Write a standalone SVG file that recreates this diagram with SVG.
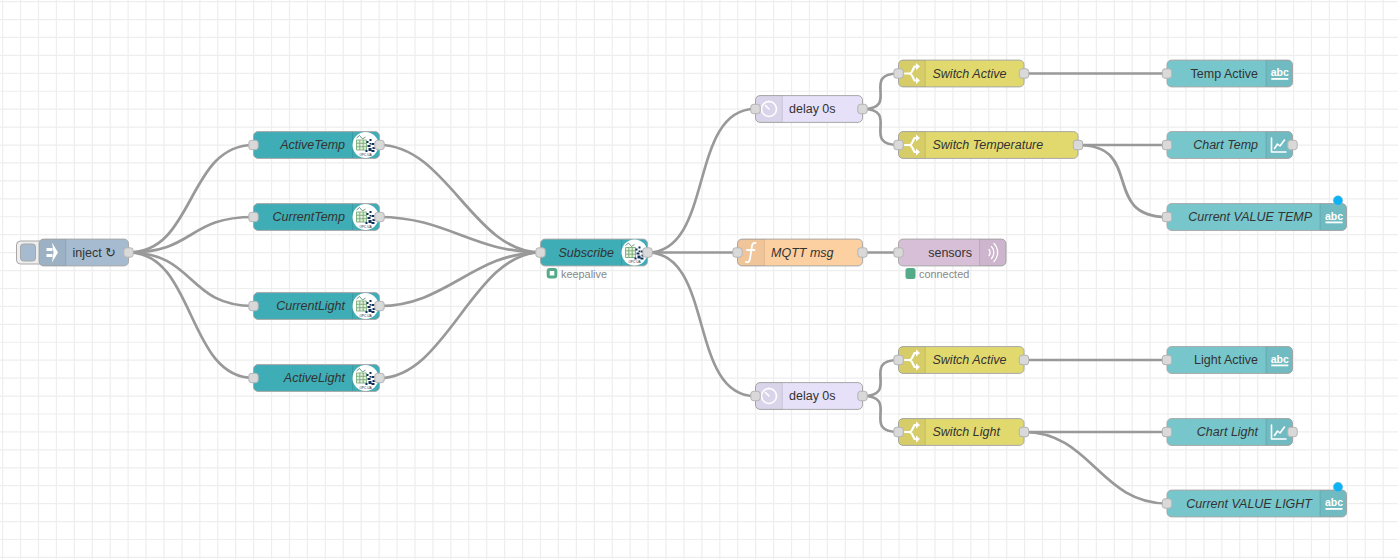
<svg xmlns="http://www.w3.org/2000/svg" width="1398" height="559" viewBox="0 0 1398 559">
<style>
text{font-family:"Liberation Sans",Arial,sans-serif;font-size:12.5px;fill:#333;dominant-baseline:central}
.i{font-style:italic}
.e{text-anchor:end}
.st{font-size:10.9px;fill:#888}
.b{stroke:#a8a8a8;stroke-width:1}
.ia{fill:#000;fill-opacity:.05}
.sep{stroke:#000;stroke-opacity:.1;stroke-width:1}
.p{fill:#d9d9d9;stroke:#b4b4b4;stroke-width:1}
.w{fill:none;stroke:#999;stroke-width:2.7}
.ic{fill:none;stroke:#fff;stroke-width:1.6;stroke-linecap:round;stroke-linejoin:round}
.if{fill:#fff}
.abc{font-size:10.5px;font-weight:bold;fill:#fff;text-anchor:middle}
.d{fill:#0cb2f3;stroke:#7fb6cc;stroke-width:.5}
.g{fill:none;stroke:#eee}
</style>
<defs>
<symbol id="port" overflow="visible"><rect class="p" x="-4.700" y="-4.700" width="9.400" height="9.400" rx="2.700"/></symbol>
<symbol id="opc" overflow="visible">
<circle r="13" fill="#fff"/>
<path d="M-9 -7L-6 -9.500L-3 -6L0 -8" fill="none" stroke="#2e6f4a" stroke-width=".7"/>
<path d="M-9 -5H1V5H-9ZM-9 -1.700H1M-9 1.700H1M-5.700 -5V5M-2.300 -5V5" fill="#e3f0dc" stroke="#6ea36e" stroke-width=".8"/>
<path d="M1 -4h2v2h-2zM4 -6h2v2h-2zM6 -2h3v2h-3zM2 0h3v2h-3zM7 2h3v2h-3zM3 3h3v3h-3zM0 5h2v2h-2zM6 5h3v2h-3zM4 -2h1.500v1.500h-1.500z" fill="#10305e"/>
<text y="9.500" text-anchor="middle" style="font-size:3.200px;fill:#223">OPC UA</text>
</symbol>
<symbol id="sw" overflow="visible">
<path class="ic" style="stroke-width:2.200" d="M-7.500 0H-3.500C-1 0 -1 -1 0 -3L2 -7H4.500M-3.500 0C-1 0 -1 1 0 3L2 7H4.500"/>
<path class="if" d="M3.500 -10.500L7.500 -7L3.500 -3.500ZM3.500 3.500L7.500 7L3.500 10.500Z"/>
</symbol>
<symbol id="clk" overflow="visible">
<circle class="ic" r="7.500"/><path class="ic" d="M0 0L-3.500 -3.500M-1 -7.500H1"/>
</symbol>
<symbol id="abcI" overflow="visible">
<text class="abc" y="-1.500">abc</text>
<rect class="if" x="-8.500" y="4.500" width="17" height="1.800"/>
</symbol>
<symbol id="chart" overflow="visible">
<path class="ic" d="M-7 -7V7H7.500"/><path class="ic" d="M-4 3.500L-1 -1L1.500 1L6 -5"/>
</symbol>
</defs>
<rect width="1398" height="559" fill="#fff"/>
<g id="grid">
<line class="g" x1="2" y1="279.500" x2="1398" y2="279.500" stroke-width="559" stroke-dasharray="1.200 16.730"/>
<line class="g" x1="699" y1="1" x2="699" y2="559" stroke-width="1398" stroke-dasharray="1.200 16.730"/>
</g>
<g id="connectors">
<path class="w" d="M128.500 252.500C195.500 252.500 186.500 145 253.500 145"/>
<path class="w" d="M128.500 252.500C195.500 252.500 186.500 217 253.500 217"/>
<path class="w" d="M128.500 252.500C195.500 252.500 186.500 306 253.500 306"/>
<path class="w" d="M128.500 252.500C195.500 252.500 186.500 378 253.500 378"/>
<path class="w" d="M379.500 145C446.500 145 473.500 252.500 540.500 252.500"/>
<path class="w" d="M379.500 217C446.500 217 473.500 252.500 540.500 252.500"/>
<path class="w" d="M379.500 306C446.500 306 473.500 252.500 540.500 252.500"/>
<path class="w" d="M379.500 378C446.500 378 473.500 252.500 540.500 252.500"/>
<path class="w" d="M647.500 252.500C714.500 252.500 688 109 755 109"/>
<path class="w" d="M647.500 252.500H737.500"/>
<path class="w" d="M647.500 252.500C714.500 252.500 688 396 755 396"/>
<path class="w" d="M862.500 109C901 109 860 73.500 898.500 73.500"/>
<path class="w" d="M862.500 109C901 109 860 145 898.500 145"/>
<path class="w" d="M862.500 252.500H898.500"/>
<path class="w" d="M862.500 396C901 396 860 360 898.500 360"/>
<path class="w" d="M862.500 396C901 396 860 432 898.500 432"/>
<path class="w" d="M1024 73.500H1167"/>
<path class="w" d="M1078 145H1167"/>
<path class="w" d="M1078 145C1145 145 1100 217 1167 217"/>
<path class="w" d="M1024 360H1167"/>
<path class="w" d="M1024 432H1167"/>
<path class="w" d="M1024 432C1091 432 1100 503.500 1167 503.500"/>
</g>
<g id="n-inject" transform="translate(39,252.500)">
<rect x="-22.500" y="-11.500" width="30" height="23" rx="4" fill="#eee" class="b"/>
<rect x="-18.500" y="-8.500" width="15" height="17" rx="3" fill="#a6bbcf" class="b"/>
<rect class="b" width="89.500" height="26.800" y="-13.400" rx="4.500" fill="#a6bbcf"/>
<path class="ia" d="M4.500 -13.400H26.800V13.400H4.500A4.500 4.500 0 0 1 0 9V-9A4.500 4.500 0 0 1 4.500 -13.400Z"/>
<path class="sep" d="M26.800 -13V13"/>
<path class="if" d="M7.500 -4.500H13.500V-1.500H7.500ZM7.500 1.500H13.500V4.500H7.500ZM13 -10L19 0L13 10L14.500 0Z"/>
<text x="33.500">inject ↻</text>
<use href="#port" x="89.500"/>
</g>
<g id="n-activetemp" transform="translate(253.500,145)">
<rect class="b" width="126" height="26.800" y="-13.400" rx="4.500" fill="#3fadb5"/>
<path class="sep" d="M99 -13V13"/><text class="i e" x="91.500">ActiveTemp</text>
<use href="#opc" x="112"/><use href="#port"/><use href="#port" x="126"/>
</g>
<g id="n-currenttemp" transform="translate(253.500,217)">
<rect class="b" width="126" height="26.800" y="-13.400" rx="4.500" fill="#3fadb5"/>
<path class="sep" d="M99 -13V13"/><text class="i e" x="91.500">CurrentTemp</text>
<use href="#opc" x="112"/><use href="#port"/><use href="#port" x="126"/>
</g>
<g id="n-currentlight" transform="translate(253.500,306)">
<rect class="b" width="126" height="26.800" y="-13.400" rx="4.500" fill="#3fadb5"/>
<path class="sep" d="M99 -13V13"/><text class="i e" x="91.500">CurrentLight</text>
<use href="#opc" x="112"/><use href="#port"/><use href="#port" x="126"/>
</g>
<g id="n-activelight" transform="translate(253.500,378)">
<rect class="b" width="126" height="26.800" y="-13.400" rx="4.500" fill="#3fadb5"/>
<path class="sep" d="M99 -13V13"/><text class="i e" x="91.500">ActiveLight</text>
<use href="#opc" x="112"/><use href="#port"/><use href="#port" x="126"/>
</g>
<g id="n-subscribe" transform="translate(540.500,252.500)">
<rect class="b" width="107" height="26.800" y="-13.400" rx="4.500" fill="#3fadb5"/>
<path class="sep" d="M81 -13V13"/><text class="i e" x="73.500">Subscribe</text>
<use href="#opc" x="94"/><use href="#port"/><use href="#port" x="107"/>
<rect x="7.700" y="17" width="7.600" height="7.600" rx="1.500" fill="#fff" stroke="#5a8" stroke-width="3"/>
<text class="st" x="20.500" y="21.500">keepalive</text>
</g>
<g id="n-delay1" transform="translate(755.500,109)">
<rect class="b" width="107" height="26.800" y="-13.400" rx="4.500" fill="#e6e0f8"/>
<path class="ia" d="M4.500 -13.400H26.800V13.400H4.500A4.500 4.500 0 0 1 0 9V-9A4.500 4.500 0 0 1 4.500 -13.400Z"/>
<path class="sep" d="M26.800 -13V13"/><use href="#clk" x="13.500"/>
<text x="33.500">delay 0s</text><use href="#port"/><use href="#port" x="107"/>
</g>
<g id="n-delay2" transform="translate(755.500,396)">
<rect class="b" width="107" height="26.800" y="-13.400" rx="4.500" fill="#e6e0f8"/>
<path class="ia" d="M4.500 -13.400H26.800V13.400H4.500A4.500 4.500 0 0 1 0 9V-9A4.500 4.500 0 0 1 4.500 -13.400Z"/>
<path class="sep" d="M26.800 -13V13"/><use href="#clk" x="13.500"/>
<text x="33.500">delay 0s</text><use href="#port"/><use href="#port" x="107"/>
</g>
<g id="n-mqttmsg" transform="translate(737.500,252.500)">
<rect class="b" width="125" height="26.800" y="-13.400" rx="4.500" fill="#fdd0a2"/>
<path class="ia" d="M4.500 -13.400H26.800V13.400H4.500A4.500 4.500 0 0 1 0 9V-9A4.500 4.500 0 0 1 4.500 -13.400Z"/>
<path class="sep" d="M26.800 -13V13"/>
<path class="ic" d="M18 -9.500C14.500 -10 14.500 -7 14 -3L12.500 6C12 9.500 11 10 8.500 9.500M9.500 -2.500H17" style="stroke-width:1.800"/>
<text class="i" x="33.500">MQTT msg</text><use href="#port"/><use href="#port" x="125"/>
</g>
<g id="n-sensors" transform="translate(898.500,252.500)">
<rect class="b" width="107.500" height="26.800" y="-13.400" rx="4.500" fill="#d8bfd8"/>
<path class="ia" d="M81 -13.400H103A4.500 4.500 0 0 1 107.500 -9V9A4.500 4.500 0 0 1 103 13.400H81Z"/>
<path class="sep" d="M81 -13V13"/>
<path class="ic" d="M90.500 -3A5 5 0 0 1 90.500 3M93 -6A9 9 0 0 1 93 6M95.500 -9A13 13 0 0 1 95.500 9" style="stroke-width:1.300"/>
<text class="e" x="73.500">sensors</text><use href="#port"/>
<rect x="7" y="15.500" width="10" height="11" rx="2.500" fill="#5a8"/>
<text class="st" x="20.500" y="21.500">connected</text>
</g>
<g id="n-switch-active-t" transform="translate(898.500,73.500)">
<rect class="b" width="125.500" height="26.800" y="-13.400" rx="4.500" fill="#e2d96e"/>
<path class="ia" d="M4.500 -13.400H26.800V13.400H4.500A4.500 4.500 0 0 1 0 9V-9A4.500 4.500 0 0 1 4.500 -13.400Z"/>
<path class="sep" d="M26.800 -13V13"/><use href="#sw" x="14"/>
<text class="i" x="34">Switch Active</text><use href="#port"/><use href="#port" x="125.500"/>
</g>
<g id="n-switch-temp" transform="translate(898.500,145)">
<rect class="b" width="179.500" height="26.800" y="-13.400" rx="4.500" fill="#e2d96e"/>
<path class="ia" d="M4.500 -13.400H26.800V13.400H4.500A4.500 4.500 0 0 1 0 9V-9A4.500 4.500 0 0 1 4.500 -13.400Z"/>
<path class="sep" d="M26.800 -13V13"/><use href="#sw" x="14"/>
<text class="i" x="34">Switch Temperature</text><use href="#port"/><use href="#port" x="179.500"/>
</g>
<g id="n-switch-active-l" transform="translate(898.500,360)">
<rect class="b" width="125.500" height="26.800" y="-13.400" rx="4.500" fill="#e2d96e"/>
<path class="ia" d="M4.500 -13.400H26.800V13.400H4.500A4.500 4.500 0 0 1 0 9V-9A4.500 4.500 0 0 1 4.500 -13.400Z"/>
<path class="sep" d="M26.800 -13V13"/><use href="#sw" x="14"/>
<text class="i" x="34">Switch Active</text><use href="#port"/><use href="#port" x="125.500"/>
</g>
<g id="n-switch-light" transform="translate(898.500,432)">
<rect class="b" width="125.500" height="26.800" y="-13.400" rx="4.500" fill="#e2d96e"/>
<path class="ia" d="M4.500 -13.400H26.800V13.400H4.500A4.500 4.500 0 0 1 0 9V-9A4.500 4.500 0 0 1 4.500 -13.400Z"/>
<path class="sep" d="M26.800 -13V13"/><use href="#sw" x="14"/>
<text class="i" x="34">Switch Light</text><use href="#port"/><use href="#port" x="125.500"/>
</g>
<g id="n-temp-active" transform="translate(1167,73.500)">
<rect class="b" width="125.500" height="26.800" y="-13.400" rx="4.500" fill="#77c6cc"/>
<path class="ia" d="M99 -13.400H121A4.500 4.500 0 0 1 125.500 -9V9A4.500 4.500 0 0 1 121 13.400H99Z"/>
<path class="sep" d="M99 -13V13"/><use href="#abcI" x="112.800"/>
<text class="e" x="91">Temp Active</text><use href="#port"/>
</g>
<g id="n-chart-temp" transform="translate(1167,145)">
<rect class="b" width="125.500" height="26.800" y="-13.400" rx="4.500" fill="#77c6cc"/>
<path class="ia" d="M99 -13.400H121A4.500 4.500 0 0 1 125.500 -9V9A4.500 4.500 0 0 1 121 13.400H99Z"/>
<path class="sep" d="M99 -13V13"/><use href="#chart" x="111.500"/>
<text class="i e" x="91">Chart Temp</text><use href="#port"/><use href="#port" x="125.500"/>
</g>
<g id="n-value-temp" transform="translate(1167,217)">
<rect class="b" width="179.500" height="26.800" y="-13.400" rx="4.500" fill="#77c6cc"/>
<path class="ia" d="M153 -13.400H175A4.500 4.500 0 0 1 179.500 -9V9A4.500 4.500 0 0 1 175 13.400H153Z"/>
<path class="sep" d="M153 -13V13"/><use href="#abcI" x="167"/>
<text class="i e" x="145">Current VALUE TEMP</text><use href="#port"/>
<circle class="d" cx="171" cy="-16.500" r="4.700"/>
</g>
<g id="n-light-active" transform="translate(1167,360)">
<rect class="b" width="125.500" height="26.800" y="-13.400" rx="4.500" fill="#77c6cc"/>
<path class="ia" d="M99 -13.400H121A4.500 4.500 0 0 1 125.500 -9V9A4.500 4.500 0 0 1 121 13.400H99Z"/>
<path class="sep" d="M99 -13V13"/><use href="#abcI" x="112.800"/>
<text class="e" x="91">Light Active</text><use href="#port"/>
</g>
<g id="n-chart-light" transform="translate(1167,432)">
<rect class="b" width="125.500" height="26.800" y="-13.400" rx="4.500" fill="#77c6cc"/>
<path class="ia" d="M99 -13.400H121A4.500 4.500 0 0 1 125.500 -9V9A4.500 4.500 0 0 1 121 13.400H99Z"/>
<path class="sep" d="M99 -13V13"/><use href="#chart" x="111.500"/>
<text class="i e" x="91">Chart Light</text><use href="#port"/><use href="#port" x="125.500"/>
</g>
<g id="n-value-light" transform="translate(1167,503.500)">
<rect class="b" width="179.500" height="26.800" y="-13.400" rx="4.500" fill="#77c6cc"/>
<path class="ia" d="M153 -13.400H175A4.500 4.500 0 0 1 179.500 -9V9A4.500 4.500 0 0 1 175 13.400H153Z"/>
<path class="sep" d="M153 -13V13"/><use href="#abcI" x="167"/>
<text class="i e" x="145">Current VALUE LIGHT</text><use href="#port"/>
<circle class="d" cx="171" cy="-16.500" r="4.700"/>
</g>
</svg>
